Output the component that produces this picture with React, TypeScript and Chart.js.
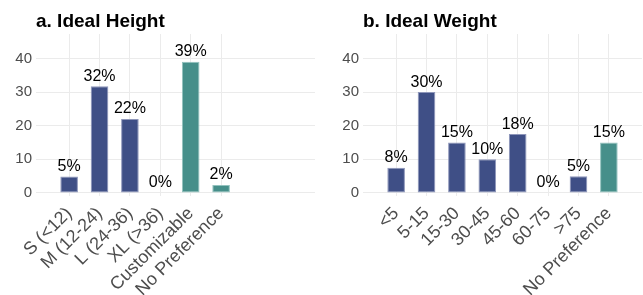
import React, { useEffect, useRef } from "react";
import { Chart, registerables } from "chart.js";

Chart.register(...registerables);

const heightTitle = "a. Ideal Height";
const heightCategories = ["S (<12)", "M (12-24)", "L (24-36)", "XL (>36)", "Customizable", "No Preference"];
const heightValues = [4.9, 31.7, 22.0, 0, 39.0, 2.4];
const heightLabels = ["5%", "32%", "22%", "0%", "39%", "2%"];
const heightGroups = ["size", "size", "size", "size", "other", "other"];

const weightTitle = "b. Ideal Weight";
const weightCategories = ["<5", "5-15", "15-30", "30-45", "45-60", "60-75", ">75", "No Preference"];
const weightValues = [7.5, 30, 15, 10, 17.5, 0, 5, 15];
const weightLabels = ["8%", "30%", "15%", "10%", "18%", "0%", "5%", "15%"];
const weightGroups = ["size", "size", "size", "size", "size", "size", "size", "other"];

const yTicks = [0, 5, 10, 15, 20, 25, 30, 35, 40, 45];

const FILL: Record<string, string> = { size: "#3F4F86", other: "#468F8A" };
const EDGE: Record<string, string> = { size: "#8E96BA", other: "#93C2BE" };

const FONT = "'Liberation Sans', Arial, Helvetica, sans-serif";

type PanelProps = {
  title: string;
  categories: string[];
  values: number[];
  labels: string[];
  groups: string[];
  left: number;
  width: number;
  axisWidth: number;
  padRight: number;
};

function Panel(p: PanelProps) {
  const ref = useRef<HTMLCanvasElement | null>(null);
  useEffect(() => {
    const canvas = ref.current;
    if (!canvas) return;
    const titlePlugin = {
      id: "panelTitle",
      afterDraw(chart: any) {
        const ctx = chart.ctx;
        ctx.save();
        ctx.font = `bold 19px ${FONT}`;
        ctx.fillStyle = "#000";
        ctx.textAlign = "left";
        ctx.textBaseline = "alphabetic";
        ctx.fillText(p.title, chart.chartArea.left, 27);
        ctx.restore();
      },
    };
    const labelPlugin = {
      id: "barLabels",
      afterDatasetsDraw(chart: any) {
        const ctx = chart.ctx;
        const meta = chart.getDatasetMeta(0);
        ctx.save();
        ctx.font = `16px ${FONT}`;
        ctx.fillStyle = "#000";
        ctx.textAlign = "center";
        ctx.textBaseline = "alphabetic";
        meta.data.forEach((bar: any, i: number) => {
          ctx.fillText(p.labels[i], bar.x, bar.y - 5.5);
        });
        ctx.restore();
      },
    };
    const chart = new Chart(canvas, {
      type: "bar",
      data: {
        datasets: [
          {
            data: p.values.map((v, i) => ({ x: i, y: v })),
            backgroundColor: p.groups.map((g) => FILL[g]),
            borderColor: p.groups.map((g) => EDGE[g]),
            borderWidth: p.values.map((v) => (v === 0 ? 0 : 1)),
            borderSkipped: false,
            barPercentage: 0.58,
            categoryPercentage: 1,
          },
        ],
      },
      options: {
        responsive: false,
        animation: false,
        devicePixelRatio: 1,
        layout: { padding: { top: 34, right: p.padRight, left: 0, bottom: 0 } },
        plugins: { legend: { display: false }, title: { display: false }, tooltip: { enabled: false } },
        scales: {
          x: {
            type: "linear",
            offset: false,
            min: -1.09,
            max: 8.09,
            afterBuildTicks: (scale: any) => {
              scale.ticks = p.categories.map((_, i) => ({ value: i }));
            },
            afterFit: (scale: any) => {
              scale.height = 99;
            },
            grid: { color: "#EBEBEB", lineWidth: 1, drawTicks: false, offset: false },
            border: { display: false },
            ticks: {
              autoSkip: false,
              minRotation: 45,
              maxRotation: 45,
              padding: 7,
              color: "#4D4D4D",
              font: { family: FONT, size: 18 },
              callback: (_v: any, i: number) => p.categories[i],
            },
          },
          y: {
            type: "linear",
            min: -0.9,
            max: 47.25,
            afterBuildTicks: (scale: any) => {
              scale.ticks = yTicks.map((v) => ({ value: v }));
            },
            afterFit: (scale: any) => {
              scale.width = p.axisWidth;
            },
            grid: {
              drawTicks: false,
              lineWidth: 1,
              color: (c: any) => (c.tick && c.tick.value % 10 === 0 ? "#EBEBEB" : "#F5F5F5"),
            },
            border: { display: false },
            ticks: {
              padding: 4,
              color: "#4D4D4D",
              font: { family: FONT, size: 15 },
              callback: (v: any) => (Number(v) % 10 === 0 ? String(v) : ""),
            },
          },
        },
      },
      plugins: [titlePlugin, labelPlugin],
    } as any);
    return () => chart.destroy();
  }, []);
  return (
    <canvas
      ref={ref}
      width={p.width}
      height={295}
      style={{ position: "absolute", left: p.left, top: 0, width: p.width, height: 295 }}
    />
  );
}

export default function App() {
  return (
    <div style={{ position: "fixed", left: 0, top: 0, width: 643, height: 295, background: "#fff" }}>
      <Panel
        title={heightTitle}
        categories={heightCategories}
        values={heightValues}
        labels={heightLabels}
        groups={heightGroups}
        left={0}
        width={320}
        axisWidth={36}
        padRight={5}
      />
      <Panel
        title={weightTitle}
        categories={weightCategories}
        values={weightValues}
        labels={weightLabels}
        groups={weightGroups}
        left={320}
        width={323}
        axisWidth={43}
        padRight={1}
      />
    </div>
  );
}
